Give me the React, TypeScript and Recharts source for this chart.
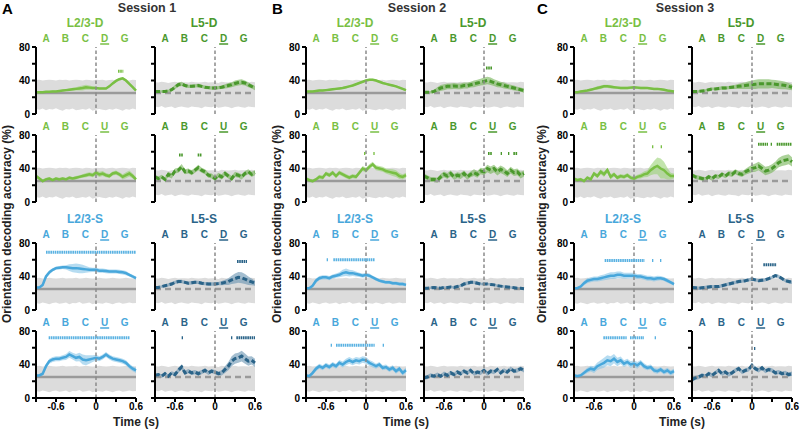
import { ComposedChart, Area, Line, XAxis, YAxis, ReferenceLine } from 'recharts'

// time bins (s)
const TIME = [-0.9, -0.85, -0.8, -0.75, -0.7, -0.65, -0.6, -0.55, -0.5, -0.45, -0.4, -0.35, -0.3, -0.25, -0.2, -0.15, -0.1, -0.05, 0, 0.05, 0.1, 0.15, 0.2, 0.25, 0.3, 0.35, 0.4, 0.45, 0.5, 0.55, 0.6]
const X_TICKS = [-0.9, -0.6, -0.3, 0, 0.3, 0.6]
const X_TICK_LABELS = ['', '-0.6', '', '0', '', '0.6']
const Y_TICKS = [0, 20, 40, 60, 80]
const Y_TICK_LABELS = ['0', '', '40', '', '80']
const LETTER_POS = [-0.75, -0.46, -0.16, 0.13, 0.43]
const LETTERS_D = ['A', 'B', 'C', 'D', 'G']
const LETTERS_U = ['A', 'B', 'C', 'U', 'G']
const CHANCE = 25

// shuffled-label null distribution
const NULL_HI_L23D = [40.5, 41, 40, 40.5, 41, 40.5, 40, 41, 40.5, 41, 40, 40.5, 41, 40.5, 40, 41, 40.5, 40, 41, 40.5, 41, 40, 40.5, 41, 40, 40.5, 41, 40.5, 40, 41, 40.5]
const NULL_LO_L23D = [6, 5, 6.5, 4.5, 6, 5.5, 7, 5, 4, 6, 5.5, 6.5, 4.5, 5, 6, 5, 7, 4, 5.5, 6, 5, 4.5, 6, 5, 6.5, 5.5, 4, 6, 5, 6.5, 5.5]
const NULL_HI_L23S = [38, 38.5, 37.5, 38, 38.5, 38, 37.5, 38, 38.5, 37.5, 38, 38, 38.5, 37.5, 38, 38.5, 38, 37.5, 38, 38.5, 38, 37.5, 38, 38.5, 38, 37.5, 38, 38.5, 38, 37.5, 38]
const NULL_LO_L23S = [8.5, 7.5, 9, 8, 7, 8.5, 9, 7.5, 8, 9, 7, 8.5, 8, 9.5, 7.5, 8, 9, 7, 8.5, 8, 7.5, 9, 8, 7, 8.5, 9, 7.5, 8, 9, 8, 8.5]
const NULL_HI_L5 = [38, 37.5, 38.5, 38, 37, 38, 38.5, 37.5, 38, 38, 37.5, 38.5, 38, 37.5, 38, 38.5, 37.5, 38, 38, 37, 38.5, 38, 37.5, 38, 38.5, 37.5, 38, 38, 37.5, 38.5, 38]
const NULL_LO_L5 = [9, 8, 9.5, 7.5, 8.5, 9, 7, 8.5, 9, 8, 7.5, 9, 8.5, 8, 7, 9, 8.5, 8, 9.5, 7.5, 8, 9, 8.5, 7, 8.5, 9, 8, 7.5, 9, 8.5, 8]

// Session 1
const S1_L23D_D = [26, 26, 26, 26.5, 26.5, 27, 27, 27.5, 28, 28.5, 29, 29.5, 30, 30.5, 31, 32, 31.5, 31, 31, 30.5, 30.5, 30.5, 33, 36.5, 39.5, 41.5, 42.5, 40, 36, 32, 28]
const S1_L23D_D_ERR = [1, 1, 1, 1, 1, 1, 1, 1, 1, 1.2, 1.5, 1.8, 2, 2.5, 3, 3, 2.5, 2, 1.5, 1.2, 1, 1, 1.2, 1.5, 1.5, 1.5, 1.5, 1.5, 1.2, 1, 1]
const S1_L23D_D_SIG = [[0.33, 0.41, 51]]
const S1_L5D_D = [27, 27, 27, 27, 27.5, 29, 32, 35, 36, 34, 33, 33, 33.5, 34, 33, 32, 31.5, 31, 31, 31.5, 32, 33, 34, 35, 36.5, 37.5, 38, 37, 35, 33, 31]
const S1_L5D_D_ERR = [1.5, 1.5, 1.5, 1.5, 1.5, 2, 2.5, 2.5, 2.5, 2, 2, 2, 2, 2, 2, 2, 2, 2, 2, 2, 2, 2.5, 3, 3, 3.5, 3.5, 3.5, 3, 3, 2.5, 2.5]
const S1_L5D_D_SIG: number[][] = []
const S1_L23D_U = [31, 28, 25, 27, 28, 26, 28, 27, 28, 27, 29, 28, 29, 30, 31, 32, 33, 32, 35, 33, 34, 32, 31, 34, 35, 33, 30, 32, 34, 31, 27]
const S1_L23D_U_ERR = [2, 2, 2, 2, 2, 2, 2, 2, 2, 2, 2, 2, 2, 2, 2, 2.5, 2.5, 2.5, 3, 3, 3, 2.5, 2.5, 2.5, 2.5, 2.5, 3, 3.5, 3.5, 3, 2.5]
const S1_L23D_U_SIG: number[][] = []
const S1_L5D_U = [30, 28, 30, 27, 33, 31, 37, 38, 42, 36, 37, 35, 38, 41, 38, 36, 32, 31, 28, 32, 30, 34, 31, 28, 33, 32, 30, 34, 36, 33, 35]
const S1_L5D_U_ERR = [2.5, 2.5, 2.5, 2.5, 3, 3, 3, 3, 3.5, 3, 3, 3, 3, 3.5, 3, 3, 3, 3, 3, 3, 3, 3, 3, 3, 3, 3, 3, 3, 3, 3, 3]
const S1_L5D_U_SIG = [[-0.54, -0.48, 56], [-0.26, -0.2, 56]]
const S1_L23S_D = [27, 27, 30, 40, 45, 48, 50, 50.5, 51, 51, 50.5, 50, 50, 49.5, 49, 48.5, 48, 48, 48, 47, 47, 46.5, 46, 46, 46, 45.5, 45, 44, 42, 40, 38]
const S1_L23S_D_ERR = [1.5, 1.5, 2, 2.5, 2.5, 2, 2, 2, 2, 2.5, 4, 5, 5.5, 5.5, 5, 4, 3, 2.5, 2.5, 2.5, 2.5, 2.5, 2.5, 2.5, 2.5, 2.5, 2.5, 2.5, 2, 2, 2]
const S1_L23S_D_SIG = [[-0.75, 0.6, 69]]
const S1_L5S_D = [27, 27, 28, 29, 30, 31, 33, 34, 34, 33, 32, 32.5, 33, 33, 32, 31.5, 31, 31, 31, 31.5, 32, 33, 34, 36, 37.5, 39, 38.5, 37, 35, 33.5, 32]
const S1_L5S_D_ERR = [1.5, 1.5, 1.5, 1.5, 2, 2, 2, 2, 2, 2, 2, 2, 2, 2, 2, 2, 2, 2, 2, 2, 2.5, 3, 4, 5, 6, 6.5, 6.5, 6, 5, 4, 3]
const S1_L5S_D_SIG = [[0.33, 0.48, 58]]
const S1_L23S_U = [27, 27, 29, 38, 44, 46, 47, 47, 48, 49, 52, 50, 48, 49, 46, 45, 46, 47, 48, 47, 49, 52, 49, 47, 46, 45, 44, 42, 38, 35, 33]
const S1_L23S_U_ERR = [1.5, 1.5, 2, 3, 3, 3, 3, 3, 3, 3.5, 4, 4, 4.5, 5, 6, 6, 5, 4, 3.5, 3, 3, 3, 3, 3, 3, 3, 3, 3, 3, 3, 3]
const S1_L23S_U_SIG = [[-0.71, 0.51, 72]]
const S1_L5S_U = [27, 28, 26, 29, 26, 30, 28, 33, 37, 30, 32, 30, 31, 29, 31, 33, 30, 32, 31, 29, 30, 34, 38, 44, 47, 48, 50, 47, 44, 45, 42]
const S1_L5S_U_ERR = [2, 2, 2, 2, 2, 2, 2.5, 3, 3, 2.5, 2.5, 2.5, 2.5, 2.5, 2.5, 2.5, 2.5, 2.5, 2.5, 2.5, 3, 4, 5, 6, 6, 6, 6.5, 6, 5.5, 5, 5]
const S1_L5S_U_SIG = [[-0.5, -0.48, 72], [0.24, 0.26, 72], [0.32, 0.6, 72]]

// Session 2
const S2_L23D_D = [27, 27, 27, 27.5, 28, 28, 28.5, 29, 29.5, 30, 30.5, 31, 32, 33, 34, 35.5, 37, 38.5, 40, 41, 41, 40, 38.5, 37, 36, 35, 34, 33, 31.5, 30, 28.5]
const S2_L23D_D_ERR = [1.2, 1.2, 1.2, 1.2, 1.2, 1.2, 1.2, 1.2, 1.2, 1.2, 1.2, 1.2, 1.2, 1.2, 1.2, 1.2, 1.2, 1.2, 1.2, 1.2, 1.2, 1.2, 1.2, 1.2, 1.2, 1.2, 1.2, 1.2, 1.2, 1.2, 1.2]
const S2_L23D_D_SIG: number[][] = []
const S2_L5D_D = [26, 26, 26, 27, 29, 31, 32, 33, 33, 33.5, 33, 33, 34, 34, 35, 36, 37, 38, 39, 40, 39, 37.5, 36, 35, 34, 33, 32, 31, 30, 29, 28]
const S2_L5D_D_ERR = [1.5, 1.5, 1.5, 2, 3, 3.5, 3.5, 3.5, 3.5, 3.5, 3.5, 3.5, 3.5, 3.5, 3.5, 4, 4, 4, 4.5, 4.5, 4.5, 4, 4, 3.5, 3.5, 3, 3, 3, 2.5, 2.5, 2.5]
const S2_L5D_D_SIG = [[0.03, 0.12, 55]]
const S2_L23D_U = [28, 26, 25, 27, 30, 29, 34, 32, 35, 31, 35, 33, 31, 29, 31, 30, 35, 40, 38, 42, 45, 41, 40, 39, 37, 36, 35, 34, 31, 30, 32]
const S2_L23D_U_ERR = [2, 2, 2, 2, 2.5, 2.5, 2.5, 2.5, 2.5, 2.5, 2.5, 2.5, 2.5, 2.5, 2.5, 2.5, 2.5, 3, 3, 3, 3, 3, 3, 3, 3, 3.5, 4, 4, 3.5, 3, 3]
const S2_L23D_U_SIG = [[-0.03, -0.01, 58], [0.11, 0.13, 58]]
const S2_L5D_U = [31, 29, 27, 27, 26, 30, 33, 31, 34, 30, 32, 31, 34, 30, 33, 35, 33, 37, 36, 40, 38, 40, 36, 39, 37, 34, 38, 35, 36, 32, 34]
const S2_L5D_U_ERR = [3, 3, 3, 3, 3, 3.5, 3.5, 3.5, 3.5, 3.5, 3.5, 3.5, 3.5, 3.5, 3.5, 4, 4, 4, 4, 4.5, 4.5, 4.5, 4.5, 4.5, 4.5, 4, 4, 4, 4, 4, 3.5]
const S2_L5D_U_SIG = [[0.06, 0.12, 58], [0.25, 0.27, 58], [0.36, 0.38, 58], [0.44, 0.5, 58]]
const S2_L23S_D = [26, 26, 29, 35, 38, 39, 39, 38, 40, 41, 42, 44, 45, 44, 44, 43, 42, 41, 42, 41, 39, 37, 35, 34, 33, 33, 32, 32, 31, 31, 30]
const S2_L23S_D_ERR = [1.5, 1.5, 2, 2.5, 2.5, 2.5, 2.5, 2.5, 2.5, 2.5, 3, 4, 4.5, 4, 3.5, 3, 2.5, 2.5, 2.5, 2.5, 2, 2, 2, 2, 2, 2, 2, 2, 2, 2, 2]
const S2_L23S_D_SIG = [[-0.59, -0.57, 60], [-0.49, 0.13, 60]]
const S2_L5S_D = [26, 26, 26.5, 27, 26.5, 26, 27, 27, 27.5, 27, 28, 29, 31, 32, 33, 33, 32, 31, 31, 31, 30.5, 30, 29, 28.5, 28, 27.5, 27, 26.5, 26, 26, 25.5]
const S2_L5S_D_ERR = [1.5, 1.5, 1.5, 1.5, 1.5, 1.5, 1.5, 1.5, 1.5, 1.5, 1.5, 1.5, 2, 2, 2, 2, 2, 1.5, 1.5, 1.5, 1.5, 1.5, 1.5, 1.5, 1.5, 1.5, 1.5, 1.5, 1.5, 1.5, 1.5]
const S2_L5S_D_SIG: number[][] = []
const S2_L23S_U = [27, 26, 30, 35, 38, 36, 39, 37, 40, 38, 42, 40, 43, 45, 43, 45, 44, 46, 45, 42, 40, 38, 40, 36, 37, 34, 36, 32, 35, 30, 33]
const S2_L23S_U_ERR = [2, 2, 2.5, 3, 3, 3, 3, 3, 3, 3, 3.5, 3.5, 4, 4, 4, 4, 4, 4, 4, 3.5, 3.5, 3, 3, 3, 3, 3, 3, 3, 3, 3, 3]
const S2_L23S_U_SIG = [[-0.53, -0.51, 63], [-0.45, 0.13, 63], [0.25, 0.27, 63]]
const S2_L5S_U = [24, 25, 27, 26, 28, 26, 29, 27, 30, 28, 31, 29, 32, 30, 33, 29, 31, 30, 33, 29, 32, 31, 34, 30, 33, 31, 35, 32, 33, 35, 33]
const S2_L5S_U_ERR = [2.5, 2.5, 2.5, 2.5, 2.5, 2.5, 2.5, 2.5, 2.5, 2.5, 2.5, 2.5, 2.5, 2.5, 2.5, 2.5, 2.5, 2.5, 2.5, 2.5, 2.5, 2.5, 2.5, 2.5, 2.5, 2.5, 2.5, 2.5, 2.5, 2.5, 2.5]
const S2_L5S_U_SIG: number[][] = []

// Session 3
const S3_L23D_D = [26, 26, 27, 27.5, 28, 29, 30, 31, 32, 33, 33, 32.5, 32, 31.5, 31, 31, 31, 31.5, 32, 31.5, 31, 31, 31, 30.5, 30, 30, 29.5, 29, 28, 27.5, 27]
const S3_L23D_D_ERR = [1, 1, 1, 1, 1.2, 1.5, 1.5, 2, 2, 2, 2, 2, 1.5, 1.5, 1.5, 1.5, 1.5, 1.5, 1.5, 1.5, 1.5, 1.5, 1.2, 1.2, 1.2, 1.2, 1.2, 1.2, 1.2, 1, 1]
const S3_L23D_D_SIG: number[][] = []
const S3_L5D_D = [27, 27, 27, 27.5, 28, 29, 30, 30, 30.5, 31, 31, 31.5, 32, 32.5, 33, 33.5, 34, 34.5, 35, 35.5, 36, 36, 36, 36, 36, 35.5, 35, 34.5, 34, 33, 32]
const S3_L5D_D_ERR = [1.5, 1.5, 1.5, 1.5, 1.5, 1.5, 1.5, 1.5, 2, 2, 2, 2, 2, 2.5, 3, 3.5, 4, 4.5, 5, 5.5, 5.5, 5.5, 5.5, 5.5, 5, 5, 5, 5, 4.5, 4, 3.5]
const S3_L5D_D_SIG: number[][] = []
const S3_L23D_U = [28, 26, 27, 25, 29, 27, 34, 31, 36, 33, 38, 30, 33, 29, 31, 30, 32, 29, 28, 30, 31, 33, 34, 38, 41, 43, 40, 38, 34, 31, 31]
const S3_L23D_U_ERR = [2, 2, 2, 2, 2, 2, 2.5, 2.5, 3, 3, 3, 3, 2.5, 2.5, 2.5, 2.5, 2.5, 2.5, 2.5, 2.5, 3, 3.5, 4, 6, 8, 10, 12, 10, 7, 4, 3]
const S3_L23D_U_SIG = [[0.27, 0.29, 66], [0.4, 0.42, 66]]
const S3_L5D_U = [32, 30, 29, 28, 27, 30, 28, 31, 30, 33, 31, 34, 33, 36, 34, 33, 36, 38, 40, 41, 43, 40, 37, 38, 40, 43, 47, 49, 50, 51, 48]
const S3_L5D_U_ERR = [2.5, 2.5, 2.5, 2.5, 2.5, 2.5, 2.5, 2.5, 2.5, 2.5, 2.5, 3, 3, 3, 3, 3, 3.5, 4, 4.5, 5, 5, 5, 5, 5, 5, 5, 5.5, 6, 6, 6, 5.5]
const S3_L5D_U_SIG = [[0.09, 0.24, 69], [0.28, 0.3, 69], [0.37, 0.6, 69]]
const S3_L23S_D = [26, 26, 28, 32, 35, 36, 37, 37, 38, 39, 40, 41, 41, 42, 42, 41, 41, 41, 41, 40, 40, 39, 38, 38, 37, 38, 38, 37, 35, 33, 31]
const S3_L23S_D_ERR = [1.5, 1.5, 2, 2.5, 3, 3, 3, 3, 3.5, 3.5, 4, 4, 4, 4, 4, 3.5, 3.5, 3.5, 3.5, 3, 3, 3, 3, 3, 3, 3, 2.5, 2.5, 2.5, 2, 2]
const S3_L23S_D_SIG = [[-0.44, 0.16, 59], [0.27, 0.29, 59], [0.39, 0.41, 59]]
const S3_L5S_D = [27, 26.5, 26, 26.5, 27, 27.5, 28, 28, 28, 29, 30, 31, 32, 33, 34, 34.5, 35, 36, 37, 36, 35, 35.5, 36, 37.5, 39, 41, 40, 37.5, 35, 34, 33]
const S3_L5S_D_ERR = [2, 2, 2, 2, 2, 2, 2, 2, 2, 2, 2, 2, 2, 2, 2, 2, 2, 2, 2, 2, 2, 2, 2, 2, 2, 2, 2, 2, 2, 2, 2]
const S3_L5S_D_SIG = [[0.17, 0.37, 54]]
const S3_L23S_U = [27, 26, 27, 30, 33, 35, 34, 38, 40, 42, 45, 44, 47, 43, 45, 41, 43, 40, 41, 39, 42, 38, 36, 37, 33, 32, 34, 31, 33, 30, 32]
const S3_L23S_U_ERR = [2, 2, 2, 2.5, 3, 3.5, 4, 4.5, 5, 6, 6, 6, 5.5, 5, 4.5, 4, 4, 4, 4, 4, 3.5, 3.5, 3, 3, 3, 3, 3, 3, 3, 3, 3]
const S3_L23S_U_SIG = [[-0.46, -0.11, 72], [-0.06, 0.15, 72], [0.31, 0.33, 72]]
const S3_L5S_U = [22, 24, 25, 27, 26, 29, 27, 30, 33, 29, 31, 28, 30, 33, 35, 31, 33, 34, 39, 35, 33, 36, 32, 34, 33, 30, 31, 29, 30, 28, 29]
const S3_L5S_U_ERR = [2.5, 2.5, 2.5, 2.5, 2.5, 2.5, 2.5, 2.5, 2.5, 2.5, 2.5, 2.5, 2.5, 2.5, 2.5, 2.5, 2.5, 2.5, 2.5, 2.5, 2.5, 2.5, 2.5, 2.5, 2.5, 2.5, 2.5, 2.5, 2.5, 2.5, 2.5]
const S3_L5S_U_SIG = [[0.03, 0.05, 59]]

type CellType = 'l23d' | 'l5d' | 'l23s' | 'l5s'

const COLORS: Record<CellType, { line: string; band: string; sig: string }> = {
  l23d: { line: '#79bf44', band: '#9ad274', sig: '#79bf44' },
  l5d: { line: '#4a982d', band: '#74b457', sig: '#4a982d' },
  l23s: { line: '#48a7db', band: '#85c4e8', sig: '#5ab2e2' },
  l5s: { line: '#2a6388', band: '#6792b0', sig: '#2a6388' },
}
const TITLES: Record<CellType, string> = { l23d: 'L2/3-D', l5d: 'L5-D', l23s: 'L2/3-S', l5s: 'L5-S' }
const NULL_BANDS: Record<CellType, number[][]> = {
  l23d: [NULL_LO_L23D, NULL_HI_L23D],
  l5d: [NULL_LO_L5, NULL_HI_L5],
  l23s: [NULL_LO_L23S, NULL_HI_L23S],
  l5s: [NULL_LO_L5, NULL_HI_L5],
}

// layout (plot-area left edges per session / column, tops per row)
const PLOT_X = [[36, 155], [306, 424], [574, 692]]
const PLOT_Y = [47, 135, 243, 331]
const PW = 100
const PH = 67
const YW = 30
const TOPH = 14
const MR = 12
const XH = 18
const MB = 7
const FONT = '"Liberation Sans", Arial, Helvetica, sans-serif'

interface PanelDef { s: number; c: number; r: number; type: CellType; mean: number[]; err: number[]; sig: number[][] }

const PANELS: PanelDef[] = [
  { s: 0, c: 0, r: 0, type: 'l23d', mean: S1_L23D_D, err: S1_L23D_D_ERR, sig: S1_L23D_D_SIG },
  { s: 0, c: 1, r: 0, type: 'l5d', mean: S1_L5D_D, err: S1_L5D_D_ERR, sig: S1_L5D_D_SIG },
  { s: 0, c: 0, r: 1, type: 'l23d', mean: S1_L23D_U, err: S1_L23D_U_ERR, sig: S1_L23D_U_SIG },
  { s: 0, c: 1, r: 1, type: 'l5d', mean: S1_L5D_U, err: S1_L5D_U_ERR, sig: S1_L5D_U_SIG },
  { s: 0, c: 0, r: 2, type: 'l23s', mean: S1_L23S_D, err: S1_L23S_D_ERR, sig: S1_L23S_D_SIG },
  { s: 0, c: 1, r: 2, type: 'l5s', mean: S1_L5S_D, err: S1_L5S_D_ERR, sig: S1_L5S_D_SIG },
  { s: 0, c: 0, r: 3, type: 'l23s', mean: S1_L23S_U, err: S1_L23S_U_ERR, sig: S1_L23S_U_SIG },
  { s: 0, c: 1, r: 3, type: 'l5s', mean: S1_L5S_U, err: S1_L5S_U_ERR, sig: S1_L5S_U_SIG },
  { s: 1, c: 0, r: 0, type: 'l23d', mean: S2_L23D_D, err: S2_L23D_D_ERR, sig: S2_L23D_D_SIG },
  { s: 1, c: 1, r: 0, type: 'l5d', mean: S2_L5D_D, err: S2_L5D_D_ERR, sig: S2_L5D_D_SIG },
  { s: 1, c: 0, r: 1, type: 'l23d', mean: S2_L23D_U, err: S2_L23D_U_ERR, sig: S2_L23D_U_SIG },
  { s: 1, c: 1, r: 1, type: 'l5d', mean: S2_L5D_U, err: S2_L5D_U_ERR, sig: S2_L5D_U_SIG },
  { s: 1, c: 0, r: 2, type: 'l23s', mean: S2_L23S_D, err: S2_L23S_D_ERR, sig: S2_L23S_D_SIG },
  { s: 1, c: 1, r: 2, type: 'l5s', mean: S2_L5S_D, err: S2_L5S_D_ERR, sig: S2_L5S_D_SIG },
  { s: 1, c: 0, r: 3, type: 'l23s', mean: S2_L23S_U, err: S2_L23S_U_ERR, sig: S2_L23S_U_SIG },
  { s: 1, c: 1, r: 3, type: 'l5s', mean: S2_L5S_U, err: S2_L5S_U_ERR, sig: S2_L5S_U_SIG },
  { s: 2, c: 0, r: 0, type: 'l23d', mean: S3_L23D_D, err: S3_L23D_D_ERR, sig: S3_L23D_D_SIG },
  { s: 2, c: 1, r: 0, type: 'l5d', mean: S3_L5D_D, err: S3_L5D_D_ERR, sig: S3_L5D_D_SIG },
  { s: 2, c: 0, r: 1, type: 'l23d', mean: S3_L23D_U, err: S3_L23D_U_ERR, sig: S3_L23D_U_SIG },
  { s: 2, c: 1, r: 1, type: 'l5d', mean: S3_L5D_U, err: S3_L5D_U_ERR, sig: S3_L5D_U_SIG },
  { s: 2, c: 0, r: 2, type: 'l23s', mean: S3_L23S_D, err: S3_L23S_D_ERR, sig: S3_L23S_D_SIG },
  { s: 2, c: 1, r: 2, type: 'l5s', mean: S3_L5S_D, err: S3_L5S_D_ERR, sig: S3_L5S_D_SIG },
  { s: 2, c: 0, r: 3, type: 'l23s', mean: S3_L23S_U, err: S3_L23S_U_ERR, sig: S3_L23S_U_SIG },
  { s: 2, c: 1, r: 3, type: 'l5s', mean: S3_L5S_U, err: S3_L5S_U_ERR, sig: S3_L5S_U_SIG },
]

const SESSION_TITLES = ['Session 1', 'Session 2', 'Session 3']
const SESSION_LETTERS = ['A', 'B', 'C']
const SESSION_TITLE_X = [147, 417, 685]
const SESSION_LETTER_X = [2, 272, 537]
const Y_TITLE_X = [7, 277, 542]
const TIME_TITLE_X = [136, 406, 682]

function LetterTick(props: any) {
  const { x, y, index, letters, color } = props
  return (
    <g>
      <text x={x} y={y} textAnchor="middle" fontSize={10} fontWeight={700} fill={color}>{letters[index]}</text>
      {index === 3 && <line x1={x - 4.5} x2={x + 4.5} y1={y + 2} y2={y + 2} stroke={color} strokeWidth={1.5} />}
    </g>
  )
}

function Panel({ p }: { p: PanelDef }) {
  const isL23 = p.c === 0
  const isL5 = !isL23
  const isBottom = p.r === 3
  const col = COLORS[p.type]
  const [lo, hi] = NULL_BANDS[p.type]
  const letters = p.r % 2 === 0 ? LETTERS_D : LETTERS_U
  const data = TIME.map((t, i) => ({
    t,
    mean: p.mean[i],
    err: [p.mean[i] - p.err[i], p.mean[i] + p.err[i]],
    nul: [lo[i], hi[i]],
  }))
  const w = YW + PW + MR
  const h = TOPH + PH + (isBottom ? XH : MB)
  const axisStyle = { stroke: '#000', strokeWidth: 2 }
  const tickStyle = { fontSize: 10, fontWeight: 700, fill: '#000' }

  return (
    <div style={{ position: 'absolute', left: PLOT_X[p.s][p.c] - YW, top: PLOT_Y[p.r] - TOPH }}>
      <ComposedChart width={w} height={h} data={data} margin={{ top: 0, right: MR, left: 0, bottom: isBottom ? 0 : MB }}>
        <XAxis
          dataKey="t"
          type="number"
          domain={[-0.9, 0.6]}
          ticks={X_TICKS}
          interval={0}
          hide={!isBottom}
          height={XH}
          tickSize={4}
          tickMargin={1}
          axisLine={axisStyle}
          tickLine={axisStyle}
          tick={tickStyle}
          tickFormatter={(_v: number, i: number) => X_TICK_LABELS[i]}
        />
        <XAxis
          xAxisId="top"
          dataKey="t"
          orientation="top"
          type="number"
          domain={[-0.9, 0.6]}
          allowDataOverflow
          ticks={LETTER_POS}
          interval={0}
          height={TOPH}
          axisLine={false}
          tickLine={false}
          tickSize={0}
          tickMargin={5}
          tick={<LetterTick letters={letters} color={col.line} />}
        />
        <YAxis
          type="number"
          domain={[0, 80]}
          ticks={Y_TICKS}
          interval={0}
          width={YW}
          tickSize={4}
          tickMargin={2}
          axisLine={axisStyle}
          tickLine={axisStyle}
          tick={tickStyle}
          tickFormatter={(_v: number, i: number) => (isL23 ? Y_TICK_LABELS[i] : '')}
        />
        <Area dataKey="nul" type="linear" stroke="none" fill="#dcdcdc" fillOpacity={1} isAnimationActive={false} />
        <ReferenceLine y={CHANCE} stroke="#9a9a9a" strokeWidth={2.5} strokeDasharray={isL5 ? '6 4' : undefined} />
        <Area dataKey="err" type="linear" stroke="none" fill={col.band} fillOpacity={0.6} isAnimationActive={false} />
        <Line
          dataKey="mean"
          type="linear"
          stroke={col.line}
          strokeWidth={isL5 ? 3 : 2.5}
          strokeDasharray={isL5 ? '5 2.5' : undefined}
          dot={false}
          activeDot={false}
          isAnimationActive={false}
        />
        <ReferenceLine x={0} stroke="#8a8a8a" strokeWidth={1.5} strokeDasharray="3.5 2.5" />
        {p.sig.map((s, i) => (
          <ReferenceLine
            key={i}
            segment={[{ x: s[0], y: s[2] }, { x: s[1], y: s[2] }]}
            stroke={col.sig}
            strokeWidth={3}
            strokeDasharray="1.6 0.6"
          />
        ))}
      </ComposedChart>
    </div>
  )
}

export default function App() {
  const bold = { fontWeight: 700, fontFamily: FONT, whiteSpace: 'nowrap' as const, position: 'absolute' as const, lineHeight: 1 }
  return (
    <div style={{ position: 'absolute', left: 0, top: 0, width: 800, height: 432, background: '#fff', overflow: 'hidden', fontFamily: FONT }}>
      {SESSION_TITLES.map((t, s) => (
        <div key={'st' + s}>
          <div style={{ ...bold, left: SESSION_LETTER_X[s], top: 1, fontSize: 15, color: '#000' }}>{SESSION_LETTERS[s]}</div>
          <div style={{ ...bold, left: SESSION_TITLE_X[s], top: 2, fontSize: 12.5, color: '#333', transform: 'translateX(-50%)' }}>{t}</div>
          <div style={{ ...bold, left: Y_TITLE_X[s], top: 224, fontSize: 12, color: '#222', transform: 'translate(-50%, -50%) rotate(-90deg)' }}>
            Orientation decoding accuracy (%)
          </div>
          <div style={{ ...bold, left: TIME_TITLE_X[s], top: 416, fontSize: 12, color: '#222', transform: 'translateX(-50%)' }}>Time (s)</div>
        </div>
      ))}
      {PANELS.filter((p) => p.r % 2 === 0).map((p, i) => (
        <div
          key={'pt' + i}
          style={{ ...bold, left: PLOT_X[p.s][p.c] + PW / 2 - 1, top: PLOT_Y[p.r] - 30, fontSize: 12, color: COLORS[p.type].line, transform: 'translateX(-50%)' }}
        >
          {TITLES[p.type]}
        </div>
      ))}
      {PANELS.map((p, i) => (
        <Panel key={i} p={p} />
      ))}
    </div>
  )
}
